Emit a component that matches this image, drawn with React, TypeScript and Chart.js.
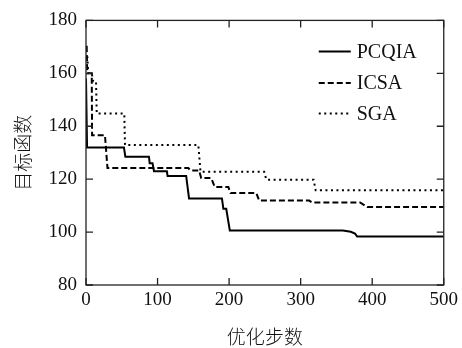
import React, { useEffect, useRef } from "react";
import { Chart, registerables } from "chart.js";

Chart.register(...registerables);

const xTicks = [0, 100, 200, 300, 400, 500];
const yTicks = [80, 100, 120, 140, 160, 180];
const seriesNames = ["PCQIA", "ICSA", "SGA"];

const pcqiaX = [0, 1, 1.5, 53, 55, 88, 89, 93, 95, 113, 114, 140, 144, 190, 192, 196, 201, 359, 370, 376, 379, 500];
const pcqiaY = [158, 158, 132, 132, 128.5, 128.5, 126, 126, 123, 123, 121.2, 121.2, 112.7, 112.7, 108.8, 108.8, 100.6, 100.6, 100.1, 99.4, 98.3, 98.3];

const icsaX = [0, 1, 1.5, 2, 8, 8.5, 26.5, 30, 143, 146, 158, 161, 175, 180, 199, 202, 238, 242, 312, 316, 383, 393, 500];
const icsaY = [170, 170, 163, 160, 160, 136.6, 136.6, 124.2, 124.2, 123.3, 123.3, 120.4, 120.4, 117, 117, 114.8, 114.8, 111.9, 111.9, 111.2, 111.2, 109.5, 109.5];

const sgaX = [0, 2, 3, 8, 10, 14, 15, 53.5, 54.5, 157, 160, 249, 252, 318, 321, 500];
const sgaY = [166, 166, 160, 160, 157, 157, 144.8, 144.8, 132.9, 132.9, 122.8, 122.8, 119.8, 119.8, 115.8, 115.8];

const xTitle = "优化步数";
const yTitle = "目标函数";

const dashes: number[][] = [[], [6, 3], [2, 3.5]];

function pts(xs: number[], ys: number[]) {
  return xs.map((x, i) => ({ x, y: ys[i] }));
}

const serif = "'Liberation Serif', 'Times New Roman', serif";
const cjk = "'Noto Sans CJK SC', sans-serif";

const framePlugin = {
  id: "frame",
  afterDatasetsDraw(chart: any) {
    const { ctx, chartArea: a, scales } = chart;
    ctx.save();
    ctx.strokeStyle = "#222";
    ctx.lineWidth = 1.3;
    ctx.setLineDash([]);
    ctx.strokeRect(a.left, a.top, a.right - a.left, a.bottom - a.top);
    const L = 7;
    ctx.beginPath();
    scales.x.ticks.forEach((t: any) => {
      const px = scales.x.getPixelForValue(t.value);
      ctx.moveTo(px, a.bottom);
      ctx.lineTo(px, a.bottom - L);
      ctx.moveTo(px, a.top);
      ctx.lineTo(px, a.top + L);
    });
    scales.y.ticks.forEach((t: any) => {
      const py = scales.y.getPixelForValue(t.value);
      ctx.moveTo(a.left, py);
      ctx.lineTo(a.left + L, py);
      ctx.moveTo(a.right, py);
      ctx.lineTo(a.right - L, py);
    });
    ctx.stroke();

    // legend
    const rows = [a.top + 31, a.top + 62.5, a.top + 93];
    chart.data.datasets.forEach((ds: any, i: number) => {
      const y = rows[i];
      ctx.beginPath();
      ctx.strokeStyle = "#000";
      ctx.lineWidth = 2;
      ctx.setLineDash(ds.borderDash || []);
      ctx.moveTo(a.right - 125, y);
      ctx.lineTo(a.right - 93, y);
      ctx.stroke();
      ctx.setLineDash([]);
      ctx.fillStyle = "#111";
      ctx.font = `20px ${serif}`;
      ctx.textBaseline = "middle";
      ctx.textAlign = "left";
      ctx.fillText(ds.label, a.right - 87, y + 1);
    });
    ctx.restore();
  },
};

export default function App() {
  const ref = useRef<HTMLCanvasElement | null>(null);

  useEffect(() => {
    if (!ref.current) return;
    const series = [pts(pcqiaX, pcqiaY), pts(icsaX, icsaY), pts(sgaX, sgaY)];
    const chart = new Chart(ref.current, {
      type: "line",
      data: {
        datasets: series.map((d, i) => ({
          label: seriesNames[i],
          data: d,
          borderColor: "#000",
          borderWidth: 2,
          borderDash: dashes[i],
          pointRadius: 0,
          tension: 0,
          fill: false,
        })),
      },
      options: {
        animation: false,
        responsive: false,
        layout: { padding: { top: 15, right: 18, left: 0, bottom: 0 } },
        plugins: {
          legend: { display: false },
          tooltip: { enabled: false },
        },
        scales: {
          x: {
            type: "linear",
            min: 0,
            max: 500,
            afterBuildTicks: (s: any) => {
              s.ticks = xTicks.map((v) => ({ value: v }));
            },
            afterFit: (s: any) => {
              s.height = 63;
            },
            grid: { display: false, drawTicks: false },
            border: { display: false },
            ticks: {
              padding: 4,
              color: "#111",
              font: { family: serif, size: 19 },
              maxRotation: 0,
            },
            title: {
              display: true,
              text: xTitle,
              color: "#111",
              font: { family: cjk, size: 19, weight: "300" },
              padding: { top: 0, bottom: 0 },
            },
          },
          y: {
            type: "linear",
            min: 80,
            max: 180,
            afterBuildTicks: (s: any) => {
              s.ticks = yTicks.map((v) => ({ value: v }));
            },
            afterFit: (s: any) => {
              s.width = 86;
            },
            grid: { display: false, drawTicks: false },
            border: { display: false },
            ticks: {
              padding: 9,
              color: "#111",
              font: { family: serif, size: 19 },
            },
            title: {
              display: true,
              text: yTitle,
              color: "#111",
              font: { family: cjk, size: 19, weight: "300" },
              padding: { top: 11, bottom: 0 },
            },
          },
        },
      },
      plugins: [framePlugin],
    });
    return () => chart.destroy();
  }, []);

  return (
    <div style={{ position: "absolute", left: 0, top: 0, width: 462, height: 348, background: "#fff" }}>
      <canvas ref={ref} width={462} height={348} />
    </div>
  );
}
